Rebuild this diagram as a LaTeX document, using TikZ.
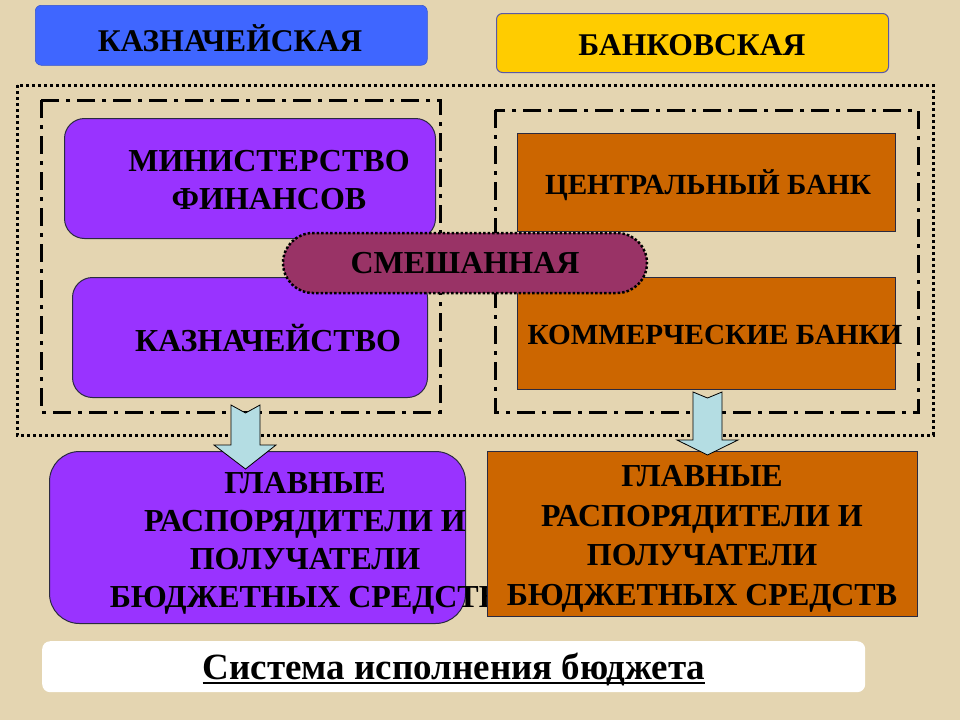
\documentclass[tikz,border=0pt]{standalone}
\usepackage{fontspec}
\setmainfont{Liberation Serif}
\usetikzlibrary{shapes.misc}
\definecolor{bg}{HTML}{E4D5B1}
\definecolor{cblue}{HTML}{3F66FF}
\definecolor{cyellow}{HTML}{FFCC00}
\definecolor{cpurple}{HTML}{9933FF}
\definecolor{corange}{HTML}{CC6600}
\definecolor{cmaroon}{HTML}{993366}
\definecolor{carrow}{HTML}{B4DDE3}
\definecolor{cedge}{HTML}{2A2A40}
\begin{document}
\begin{tikzpicture}[x=1pt,y=-1pt,
  txt/.style={font=\fontsize{32}{38}\selectfont\bfseries, align=center, inner sep=0pt, text=black},
  txtsm/.style={font=\fontsize{29.2}{34}\selectfont\bfseries, align=center, inner sep=0pt, text=black},
  hdr/.style={font=\fontsize{31.6}{34}\selectfont\bfseries, inner sep=0pt, text=black},
  pbox/.style={draw=cedge, line width=1pt, fill=cpurple, rounded corners=20pt, anchor=north west, inner sep=0pt},
  obox/.style={draw=cedge, line width=1pt, fill=corange, anchor=north west, inner sep=0pt},
  dotline/.style={line width=3pt, dash pattern=on 3pt off 3pt},
  dashdot/.style={line width=3pt, dash pattern=on 18pt off 7pt on 4pt off 7pt},
  blockarrow/.style={fill=carrow, draw=black, line width=0.8pt, line join=miter}
]
\fill[bg] (0,0) rectangle (960,720);
\useasboundingbox (0,0) rectangle (960,720);

% header boxes
\node[fill=cblue, draw=cblue!80!black, line width=0.5pt, rounded corners=6pt, anchor=north west,
  minimum width=392, minimum height=60, inner sep=0pt] (kazb) at (35,5) {};
\node[hdr] (kazt) at (230,38) {КАЗНАЧЕЙСКАЯ};
\node[fill=cyellow, draw=gray!70!blue, line width=1pt, rounded corners=6pt, anchor=north west,
  minimum width=392, minimum height=59, inner sep=0pt] (bankb) at (496,13) {};
\node[hdr] (bankt) at (692,45) {БАНКОВСКАЯ};

% frames
\draw[dotline] (17,85) rectangle (933,435);
\draw[dashdot] (41,100) rectangle (440,412);
\draw[dashdot] (495,110) rectangle (918,412);

% upper boxes
\node[pbox, minimum width=371, minimum height=120] (mfb) at (64,118) {};
\node[txt] (mft) at (269,180) {МИНИСТЕРСТВО\\ФИНАНСОВ};
\node[pbox, minimum width=355, minimum height=120] (kzb) at (72,277) {};
\node[txt] (kzt) at (268,338) {КАЗНАЧЕЙСТВО};
\node[obox, minimum width=378, minimum height=98] (cbb) at (517,133) {};
\node[txtsm] (cbt) at (708,185) {ЦЕНТРАЛЬНЫЙ БАНК};
\node[obox, minimum width=378, minimum height=112] (kbb) at (517,277) {};
\node[txtsm] (kbt) at (715,335) {КОММЕРЧЕСКИЕ БАНКИ};

% mixed
\node[rounded rectangle, fill=cmaroon, draw=black, line width=2.5pt, dash pattern=on 2.5pt off 2pt,
  minimum width=364, minimum height=60, inner sep=0pt, txt] (mix) at (465,263) {СМЕШАННАЯ};

% lower boxes
\node[pbox, rounded corners=30pt, minimum width=416, minimum height=172] (lpb) at (49,451) {};
\node[txt] (lpt) at (305,543.5) {ГЛАВНЫЕ\\РАСПОРЯДИТЕЛИ И\\ПОЛУЧАТЕЛИ\\БЮДЖЕТНЫХ СРЕДСТВ};
\node[obox, minimum width=430, minimum height=165] (rob) at (487,451) {};
\node[txt, font=\fontsize{32}{39.5}\selectfont\bfseries] (rot) at (702,539) {ГЛАВНЫЕ\\РАСПОРЯДИТЕЛИ И\\ПОЛУЧАТЕЛИ\\БЮДЖЕТНЫХ СРЕДСТВ};

% block arrows
\draw[blockarrow] (231,405) -- (245.5,413) -- (260,405) -- (260,445) -- (276,445)
  -- (245.5,469) -- (214,445) -- (231,445) -- cycle;
\draw[blockarrow] (693,392) -- (707.5,398) -- (722,392) -- (722,440) -- (738,440)
  -- (707.5,455) -- (677,440) -- (693,440) -- cycle;

% caption
\node[fill=white, rounded corners=8pt, anchor=north west, minimum width=823, minimum height=51,
  inner sep=0pt] (capb) at (42,641) {};
\node[font=\fontsize{37}{40}\selectfont\bfseries, inner sep=0pt] (capt) at (454,669)
  {Система исполнения бюджета};
\draw[line width=2pt] ([yshift=-4pt]capt.base west) -- ([yshift=-4pt]capt.base east);
\end{tikzpicture}
\end{document}
